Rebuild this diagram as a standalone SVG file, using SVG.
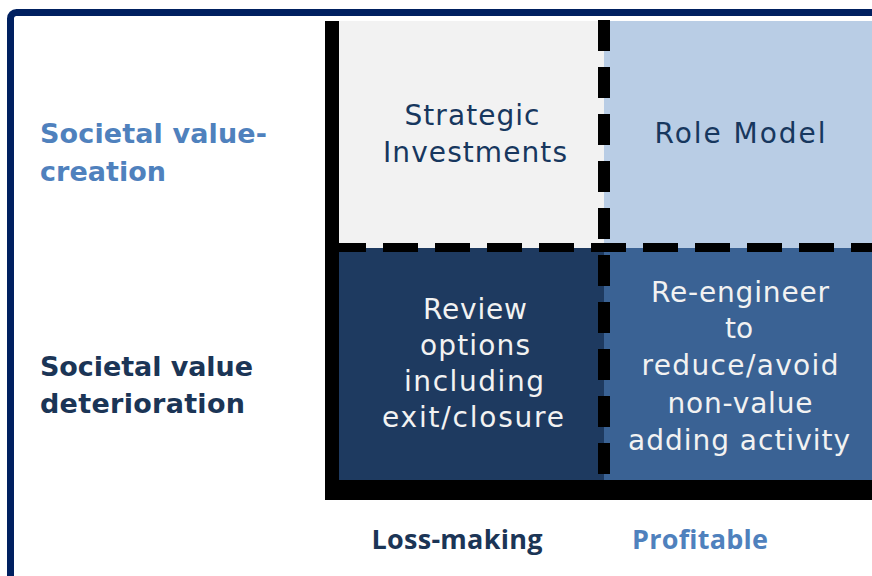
<svg xmlns="http://www.w3.org/2000/svg" width="872" height="576" viewBox="0 0 872 576">
  <style>
    .cell { font-family: "DejaVu Sans", "Open Sans", sans-serif; font-size: 28px; text-anchor: middle; }
    .dark { fill: #17375E; }
    .light { fill: #F2F2F2; }
    .axis { font-family: "DejaVu Sans", "Open Sans", sans-serif; font-size: 27px; font-weight: bold; }
    .col { font-family: "Open Sans", "DejaVu Sans", sans-serif; font-size: 27px; text-anchor: middle; }
    .blue { fill: #4F81BD; }
    .navy { fill: #1B3556; }
    .dash { stroke: #000; fill: none; }
  </style>

  <rect width="872" height="576" fill="#FFFFFF"/>

  <!-- outer frame -->
  <rect x="10.5" y="12.5" width="900" height="600" rx="6" fill="none" stroke="#002060" stroke-width="7"/>

  <!-- quadrants -->
  <g id="strategic-investments">
    <rect x="339" y="21" width="265" height="227" fill="#F2F2F2"/>
    <text class="cell dark" x="472" y="125" textLength="135" lengthAdjust="spacing">Strategic</text>
    <text class="cell dark" x="475" y="162" textLength="184" lengthAdjust="spacing">Investments</text>
  </g>
  <g id="role-model">
    <rect x="604" y="21" width="268" height="227" fill="#B9CDE5"/>
    <text class="cell dark" x="740" y="143" textLength="171" lengthAdjust="spacing">Role Model</text>
  </g>
  <g id="review-options">
    <rect x="339" y="248" width="265" height="232" fill="#1E3A60"/>
    <text class="cell light" x="475" y="319" textLength="104" lengthAdjust="spacing">Review</text>
    <text class="cell light" x="475" y="355" textLength="110" lengthAdjust="spacing">options</text>
    <text class="cell light" x="474" y="391" textLength="140" lengthAdjust="spacing">including</text>
    <text class="cell light" x="473" y="427" textLength="182" lengthAdjust="spacing">exit/closure</text>
  </g>
  <g id="re-engineer">
    <rect x="604" y="248" width="268" height="232" fill="#3A6294"/>
    <text class="cell light" x="740" y="302" textLength="178" lengthAdjust="spacing">Re-engineer</text>
    <text class="cell light" x="739" y="338">to</text>
    <text class="cell light" x="740" y="375" textLength="197" lengthAdjust="spacing">reduce/avoid</text>
    <text class="cell light" x="740" y="413" textLength="145" lengthAdjust="spacing">non-value</text>
    <text class="cell light" x="739" y="450" textLength="222" lengthAdjust="spacing">adding activity</text>
  </g>

  <!-- axes and dividers -->
  <g id="connectors">
    <path d="M332 21 V490 H872" stroke="#000" stroke-width="14" fill="none"/>
    <rect x="325" y="480" width="547" height="20" fill="#000"/>
    <line class="dash" x1="339" y1="247.5" x2="872" y2="247.5" stroke-width="9" stroke-dasharray="35 17" stroke-dashoffset="8"/>
    <line class="dash" x1="604" y1="20" x2="604" y2="480" stroke-width="12" stroke-dasharray="31 16"/>
  </g>

  <!-- row labels -->
  <g id="row-creation">
    <text class="axis blue" x="40" y="143" textLength="227" lengthAdjust="spacing">Societal value-</text>
    <text class="axis blue" x="40" y="181" textLength="126" lengthAdjust="spacing">creation</text>
  </g>
  <g id="row-deterioration">
    <text class="axis navy" x="40" y="376" textLength="213" lengthAdjust="spacing">Societal value</text>
    <text class="axis navy" x="40" y="413" textLength="205" lengthAdjust="spacing">deterioration</text>
  </g>

  <!-- column labels -->
  <g id="col-loss">
    <text class="axis col navy" x="457" y="549" textLength="171" lengthAdjust="spacing">Loss-making</text>
  </g>
  <g id="col-profit">
    <text class="axis col blue" x="700" y="549" textLength="136" lengthAdjust="spacing">Profitable</text>
  </g>
</svg>
